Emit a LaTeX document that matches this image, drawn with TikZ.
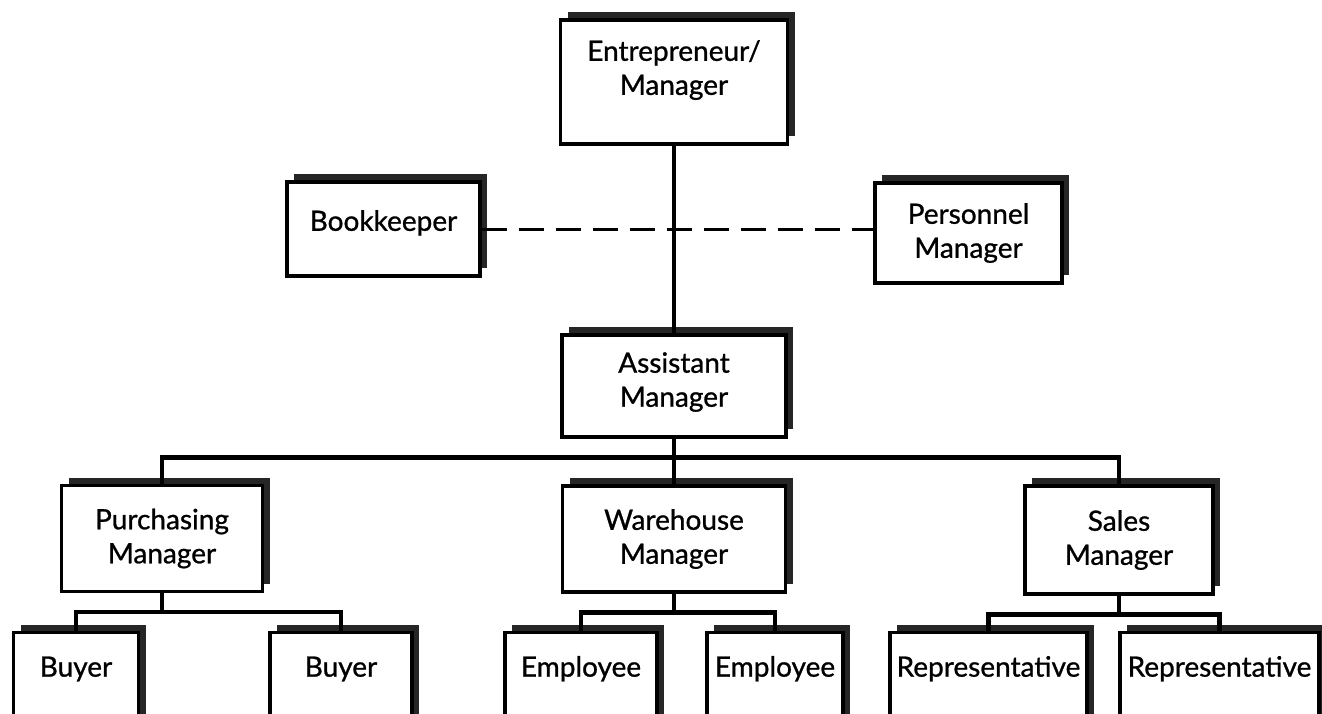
\documentclass[tikz,border=0pt]{standalone}
\usepackage{fontspec}
\setmainfont{Lato}[BoldFont=Lato, BoldFeatures={FakeBold=0.9}]
\usetikzlibrary{shadows}
% extra depth below the last line, used to raise a label inside its box
\newcommand\deepstrut[1]{\rule[-#1]{0pt}{#1}}
\begin{document}
\begin{tikzpicture}[x=1pt,y=-1pt,
  box/.style={draw=black, line width=3.3pt, fill=white, align=center,
    inner sep=0pt, font=\fontsize{28}{34}\selectfont\bfseries,
    drop shadow={shadow xshift=7pt, shadow yshift=8pt, fill=black!85, opacity=1}},
  lower/.style={box, anchor=north, text height=44pt, text depth=60pt},
  link/.style={line width=4.4pt},
  staff/.style={line width=3pt, dash pattern=on 25pt off 12pt}]
\useasboundingbox (0,0) rectangle (1322,714);
\clip (0,0) rectangle (1322,714);

% top of the chart
\node[box, minimum width=227pt, minimum height=124pt] (top) at (674,82)
  {Entrepreneur/\\Manager\deepstrut{29pt}};
\node[box, minimum width=193pt, minimum height=94pt] (book) at (383.5,229)
  {Bookkeeper\deepstrut{17pt}};
\node[box, minimum width=187pt, minimum height=100pt] (pers) at (968.5,233)
  {Personnel\\Manager};
\node[box, minimum width=224pt, minimum height=102pt] (asst) at (674,386)
  {Assistant\\Manager\deepstrut{13pt}};

% department heads
\node[box, minimum width=201pt, minimum height=106pt] (purch) at (162,538.5)
  {Purchasing\\Manager};
\node[box, minimum width=223pt, minimum height=106pt] (ware) at (674,539)
  {Warehouse\\Manager};
\node[box, minimum width=188pt, minimum height=108pt] (sales) at (1119,540)
  {Sales\\Manager};

% staff row, running off the lower edge
\node[lower, minimum width=125pt] (buy1) at (76,631) {Buyer};
\node[lower, minimum width=142pt] (buy2) at (341,631) {Buyer};
\node[lower, minimum width=152pt] (emp1) at (581,631) {Employee};
\node[lower, minimum width=136pt] (emp2) at (775,631) {Employee};
\node[lower, minimum width=197pt] (rep1) at (988.5,631) {Representative};
\node[lower, minimum width=199pt] (rep2) at (1219.5,631) {Representative};

% reporting lines
\draw[link] (top.south) -- (asst.north);
\draw[staff] (book.east) -- (book.east -| pers.west);

\draw[link] (asst.south) -- ++(0,19) coordinate (mbus);
\draw[link] (purch.north) |- (mbus) -| (sales.north);
\draw[link] (mbus) -- (ware.north);

\draw[link] (purch.south) -- ++(0,19) coordinate (pbus);
\draw[link] (buy1.north) |- (pbus) -| (buy2.north);

\draw[link] (ware.south) -- ++(0,19) coordinate (wbus);
\draw[link] (emp1.north) |- (wbus) -| (emp2.north);

\draw[link] (sales.south) -- ++(0,19) coordinate (sbus);
\draw[link] (rep1.north) |- (sbus) -| (rep2.north);
\end{tikzpicture}
\end{document}
